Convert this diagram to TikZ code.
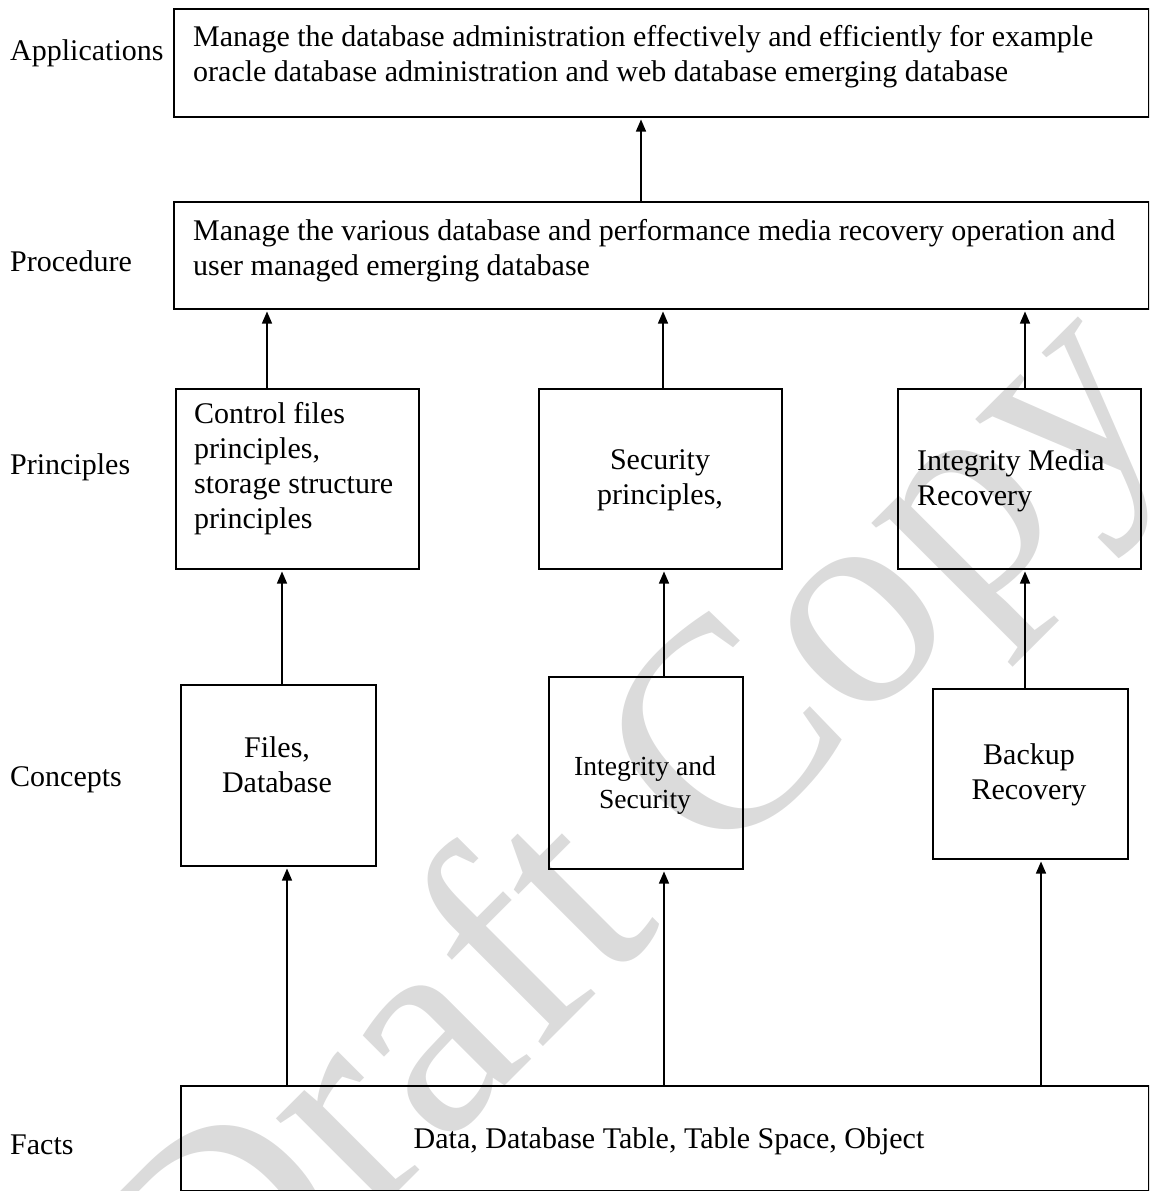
\documentclass[tikz,border=0pt]{standalone}
\usepackage{fontspec}
\setmainfont{Liberation Serif}
\usetikzlibrary{arrows.meta}
\begin{document}
\begin{tikzpicture}[x=1pt,y=-1pt,
  box/.style={draw, line width=1.5pt, inner sep=0pt, anchor=north west},
  ltxt/.style={font=\fontsize{30}{35}\selectfont, inner sep=0pt, align=left, anchor=west},
  ctxt/.style={font=\fontsize{30}{35}\selectfont, inner sep=0pt, align=center},
  lbl/.style={font=\fontsize{30}{35}\selectfont, inner sep=0pt, anchor=west},
  arr/.style={line width=1.3pt, -{Triangle[length=12pt,width=10pt]}, shorten >=2pt},
  wmark/.style={text=gray!28, font=\fontsize{300}{300}\selectfont, rotate=45, inner sep=0pt}]
\useasboundingbox (0,0) rectangle (1149,1191);
\clip (0,0) rectangle (1149,1191);
% watermark
\node[wmark] (wm) at (645,842) {Draft Copy};
% row labels
\node[lbl] (lapp) at (10,53) {Applications};
\node[lbl] (lproc) at (10,261) {Procedure};
\node[lbl] (lprin) at (10,467) {Principles};
\node[lbl] (lconc) at (10,780) {Concepts};
\node[lbl] (lfact) at (10,1145) {Facts};
% boxes
\node[box, minimum width=975pt, minimum height=108pt] (app) at (173,8) {};
\node[box, minimum width=975pt, minimum height=107pt] (proc) at (173,201) {};
\node[box, minimum width=243pt, minimum height=180pt] (p1) at (175,388) {};
\node[box, minimum width=243pt, minimum height=180pt] (p2) at (538,388) {};
\node[box, minimum width=243pt, minimum height=180pt] (p3) at (897,388) {};
\node[box, minimum width=195pt, minimum height=181pt] (c1) at (180,684) {};
\node[box, minimum width=194pt, minimum height=192pt] (c2) at (548,676) {};
\node[box, minimum width=195pt, minimum height=170pt] (c3) at (932,688) {};
\node[box, minimum width=968pt, minimum height=105pt] (facts) at (180,1085) {};
% texts
\node[ltxt] (tapp) at (193,56.5) {Manage the database administration effectively and efficiently for example\\oracle database administration and web database emerging database};
\node[ltxt] (tproc) at (193,250.5) {Manage the various database and performance media recovery operation and\\user managed emerging database};
\node[ltxt] (tp1) at (194,469) {Control files\\principles,\\storage structure\\principles};
\node[ctxt] (tp2) at (660,480.5) {Security\\principles,};
\node[ltxt] (tp3) at (917,480.5) {Integrity Media\\Recovery};
\node[ctxt] (tc1) at (277,764.5) {Files,\\Database};
\node[ctxt, font=\fontsize{27.6}{33}\selectfont] (tc2) at (645,785) {Integrity and\\Security};
\node[ctxt] (tc3) at (1029,774.5) {Backup\\Recovery};
\node[ctxt] (tf) at (669,1141.5) {Data, Database Table, Table Space, Object};
% x positions of connectors
\coordinate (xa0) at (641,0);
\coordinate (xa1) at (267,0);
\coordinate (xa2) at (663,0);
\coordinate (xa3) at (1025,0);
\coordinate (xb1) at (282,0);
\coordinate (xb2) at (664,0);
\coordinate (xb3) at (1025,0);
\coordinate (xf1) at (287,0);
\coordinate (xf2) at (664,0);
\coordinate (xf3) at (1041,0);
% connectors
\draw[arr] (proc.north -| xa0) -- (app.south -| xa0);
\draw[arr] (p1.north -| xa1) -- (proc.south -| xa1);
\draw[arr] (p2.north -| xa2) -- (proc.south -| xa2);
\draw[arr] (p3.north -| xa3) -- (proc.south -| xa3);
\draw[arr] (c1.north -| xb1) -- (p1.south -| xb1);
\draw[arr] (c2.north -| xb2) -- (p2.south -| xb2);
\draw[arr] (c3.north -| xb3) -- (p3.south -| xb3);
\draw[arr] (facts.north -| xf1) -- (c1.south -| xf1);
\draw[arr] (facts.north -| xf2) -- (c2.south -| xf2);
\draw[arr] (facts.north -| xf3) -- (c3.south -| xf3);
\end{tikzpicture}
\end{document}
